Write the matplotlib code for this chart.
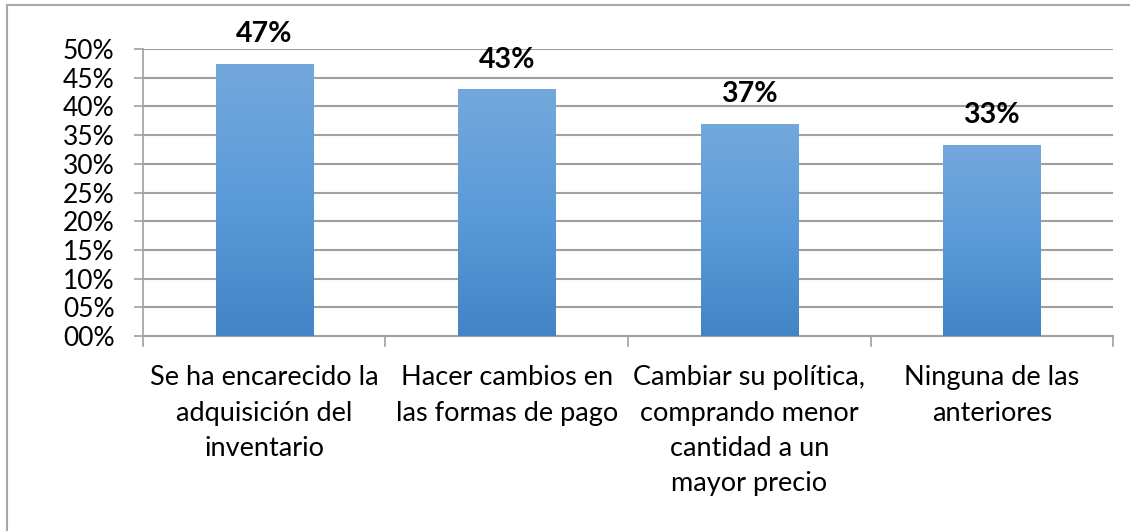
import numpy as np
import matplotlib.pyplot as plt
from matplotlib.colors import LinearSegmentedColormap
from matplotlib.lines import Line2D

plt.rcParams['font.family'] = ['Lato', 'DejaVu Sans']

# Data
categories = ["Se ha encarecido la\nadquisición del\ninventario",
              "Hacer cambios en\nlas formas de pago",
              "Cambiar su política,\ncomprando menor\ncantidad a un\nmayor precio",
              "Ninguna de las\nanteriores"]
values = [0.474, 0.430, 0.370, 0.333]
value_labels = ["47%", "43%", "37%", "33%"]
yticks = [0.00, 0.05, 0.10, 0.15, 0.20, 0.25, 0.30, 0.35, 0.40, 0.45, 0.50]
ytick_labels = ["00%", "05%", "10%", "15%", "20%", "25%", "30%", "35%", "40%", "45%", "50%"]

fig = plt.figure(figsize=(11.3, 5.31), dpi=100)
ax = fig.add_axes([0.1265, 0.367, 0.8585, 0.5407])

x = np.arange(len(categories))
bars = ax.bar(x, values, width=0.40, color="none", zorder=3)

# vertical gradient fill for each bar
cmap = LinearSegmentedColormap.from_list("bluegrad", ["#4384c6", "#5b9bd9", "#74a8dc"])
grad = np.linspace(0, 1, 256).reshape(-1, 1)
for b in bars:
    x0, y0 = b.get_x(), b.get_y()
    im = ax.imshow(grad, cmap=cmap, origin="lower", aspect="auto",
                   extent=[x0, x0 + b.get_width(), y0, y0 + b.get_height()], zorder=3)
    im.set_clip_path(b)

for xi, v, lab in zip(x, values, value_labels):
    ax.text(xi, v + 0.029, lab, ha="center", va="bottom", fontsize=20.5,
            fontweight="bold", color="black")

ax.set_xlim(-0.5, len(categories) - 0.5)
ax.set_ylim(0, 0.5)
ax.set_yticks(yticks)
ax.set_yticklabels(ytick_labels, fontsize=19)
ax.set_xticks(x)
ax.set_xticklabels(categories, fontsize=19.5, linespacing=1.52, va="top")
ax.tick_params(axis="x", length=0, pad=21)
ax.tick_params(axis="y", length=6.5, color="#a0a0a0", width=1.2, pad=14)

# category boundary ticks
for bx in np.arange(-0.5, len(categories)):
    ax.plot([bx, bx], [0, -0.018], color="#a0a0a0", lw=1.2, clip_on=False)

ax.yaxis.grid(True, color="#a0a0a0", lw=1.5)
ax.set_axisbelow(True)
for s in ["top", "right"]:
    ax.spines[s].set_visible(False)
ax.spines["left"].set_color("#a0a0a0")
ax.spines["bottom"].set_color("#a0a0a0")
ax.spines["left"].set_linewidth(1.2)
ax.spines["bottom"].set_linewidth(1.5)

# outer chart frame
fig.add_artist(Line2D([7 / 1130, 7 / 1130], [0, 1 - 5 / 531], transform=fig.transFigure,
                      color="#a8a8a8", lw=1.5))
fig.add_artist(Line2D([7 / 1130, 1], [1 - 5 / 531, 1 - 5 / 531], transform=fig.transFigure,
                      color="#a8a8a8", lw=1.5))

fig.savefig("out.png", dpi=100)
